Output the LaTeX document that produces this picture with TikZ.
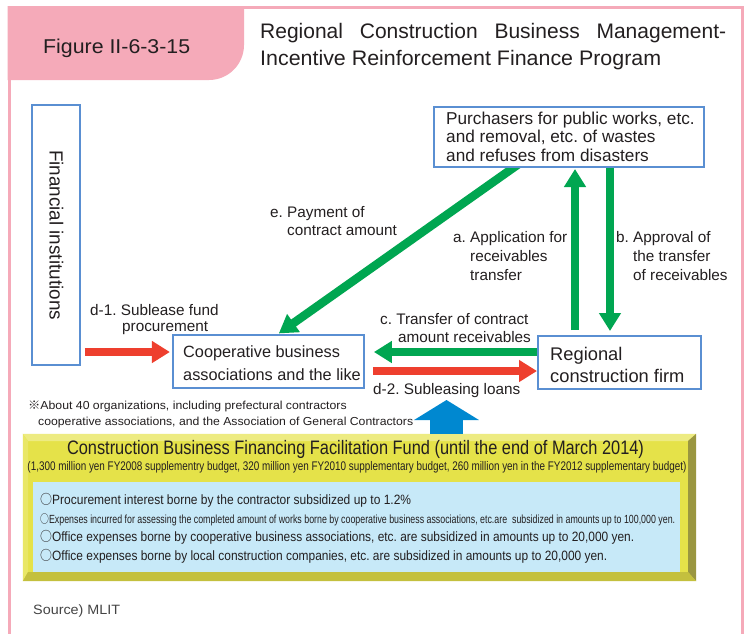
\documentclass[tikz,border=0pt]{standalone}
\usepackage{fontspec}
\setmainfont{Liberation Sans}
\newfontfamily\cjkf{Noto Sans CJK JP}
\usepackage{graphicx}
\usetikzlibrary{arrows.meta,calc}
\newcommand\fitw[2]{\resizebox{#1}{\height}{#2}}
\newcommand\circmark{{\cjkf ○}}
\definecolor{pinkc}{HTML}{F5AAB9}
\definecolor{boxblue}{HTML}{5A8FD2}
\definecolor{grn}{HTML}{00A651}
\definecolor{redc}{HTML}{EE3F2E}
\definecolor{bluea}{HTML}{0088D0}
\definecolor{yface}{HTML}{E5E249}
\definecolor{ytop}{HTML}{EDEB82}
\definecolor{yleft}{HTML}{E9E766}
\definecolor{yright}{HTML}{9A9640}
\definecolor{ybot}{HTML}{C4C03E}
\definecolor{lblue}{HTML}{C7E9F8}
\definecolor{txt}{HTML}{231F20}
\definecolor{srcgray}{HTML}{444444}
\begin{document}
\frenchspacing
\begin{tikzpicture}[x=1pt,y=-1pt,
  box/.style={draw=boxblue,line width=2pt,fill=white,inner sep=0pt},
  txtline/.style={anchor=base west,inner sep=0pt,text=txt},
  lbl/.style={txtline,font=\fontsize{15.3}{18}\selectfont},
  purtxt/.style={txtline,font=\fontsize{17.2}{20}\selectfont},
  cooptxt/.style={txtline,font=\fontsize{16.3}{19}\selectfont},
  regtxt/.style={txtline,font=\fontsize{18.3}{21}\selectfont},
  itemtxt/.style={txtline,font=\fontsize{13.5}{16}\selectfont},
  garrow/.style={draw=grn,line width=8.5pt,-{Triangle[length=18pt,width=21pt]}},
  rarrow/.style={draw=redc,line width=8.5pt,-{Triangle[length=18pt,width=21pt]}},
  barrow/.style={draw=bluea,line width=33pt,-{Triangle[length=20pt,width=64pt]}}]
\useasboundingbox (0,0) rectangle (744,633);
\fill[white] (0,0) rectangle (744,633);
% frame and header
\draw[pinkc,line width=3pt] (9,640) -- (9,7.5) -- (742.5,7.5) -- (742.5,640);
\fill[pinkc] (7.5,6) -- (244,6) -- (244,45) .. controls (244,64.3) and (228.3,80) .. (209,80) -- (7.5,80) -- cycle;
\node[txtline,font=\fontsize{20}{24}\selectfont] (fig) at (43,53.5) {\fitw{147pt}{Figure II-6-3-15}};
\node[txtline,font=\fontsize{21}{24}\selectfont] (title1) at (260,38.8) {\hbox to 466pt{Regional\hfill Construction\hfill Business\hfill Management-}};
\node[txtline,font=\fontsize{21}{24}\selectfont] (title2) at (260,65.5) {\fitw{401pt}{Incentive Reinforcement Finance Program}};
% coordinates for connectors
\coordinate (xa) at (575,0);
\coordinate (xb) at (610,0);
\coordinate (xe1) at (513,0);
\coordinate (xe2) at (278,0);
\coordinate (yc) at (0,352);
\coordinate (yd) at (0,371);
\coordinate (blt) at (446.5,400);
% boxes (positions)
\node[box,minimum width=47.5pt,minimum height=260pt] (fin) at (56,235) {};
\node[box,minimum width=270pt,minimum height=60pt] (pur) at (569,137) {};
\node[box,minimum width=191pt,minimum height=53pt] (coop) at (268.4,361.5) {};
\node[box,minimum width=163pt,minimum height=53pt] (reg) at (619.5,362.5) {};
% fund box
\node[fill=yface,inner sep=0pt,minimum width=673pt,minimum height=147pt] (fund) at (359.5,507.5) {};
\fill[ytop] (fund.north west) -- (fund.north east) -- (688,441) -- (28,441) -- cycle;
\fill[yleft] (fund.north west) -- (28,441) -- (28,572) -- (fund.south west) -- cycle;
\fill[yright] (fund.north east) -- (fund.south east) -- (688,572) -- (688,441) -- cycle;
\fill[ybot] (fund.south west) -- (fund.south east) -- (688,572) -- (28,572) -- cycle;
\node[fill=lblue,inner sep=0pt,minimum width=647pt,minimum height=90pt] (inner) at (356.5,527) {};
% connectors
\draw[garrow,shorten <=5pt,shorten >=1pt] (reg.north -| xa) -- (pur.south -| xa);
\draw[garrow,shorten >=4pt] (pur.south -| xb) -- (reg.north -| xb);
\draw[garrow,shorten >=9pt] (reg.west |- yc) -- (coop.east |- yc);
\draw[rarrow,shorten <=8pt] (coop.east |- yd) -- (reg.west |- yd);
\draw[rarrow,shorten <=4pt,shorten >=2pt] (fin.east |- yc) -- (coop.west |- yc);
\draw[garrow,shorten <=-9pt,shorten >=1pt] (pur.south -| xe1) -- (coop.north -| xe2);
\draw[barrow] (fund.north -| blt) -- (blt);
% redraw purchaser box border over the diagonal start
\node[box,minimum width=270pt,minimum height=60pt] (pur2box) at (569,137) {};
% box texts
\node[rotate=-90,inner sep=0pt,text=txt,font=\fontsize{19}{22}\selectfont] (fint) at (56.5,235) {\fitw{170pt}{Financial institutions}};
\node[purtxt] (pur1) at (446,124.3) {Purchasers for public works, etc.};
\node[purtxt] (pur2) at (446,142.7) {and removal, etc. of wastes};
\node[purtxt] (pur3) at (446,161.7) {and refuses from disasters};
\node[cooptxt] (coop1) at (183,357.7) {Cooperative business};
\node[cooptxt] (coop2) at (183,380) {associations and the like};
\node[regtxt] (reg1) at (550,360) {Regional};
\node[regtxt] (reg2) at (550,382.7) {construction firm};
% labels
\node[lbl] (e1) at (270,217) {e. Payment of};
\node[lbl] (e2) at (287,235.5) {contract amount};
\node[lbl] (a1) at (453,242.7) {a. Application for};
\node[lbl] (a2) at (470,261.7) {receivables};
\node[lbl] (a3) at (470,280) {transfer};
\node[lbl] (b1) at (616,242.7) {b. Approval of};
\node[lbl] (b2) at (633,261.7) {the transfer};
\node[lbl] (b3) at (633,280) {of receivables};
\node[lbl] (c1) at (380,324) {c. Transfer of contract};
\node[lbl] (c2) at (398,342) {amount receivables};
\node[lbl] (d1a) at (90,315.5) {d-1. Sublease fund};
\node[lbl] (d1b) at (122,331.5) {procurement};
\node[lbl] (d2) at (373,394.5) {d-2. Subleasing loans};
% note
\node[txtline,font=\fontsize{11.6}{14}\selectfont] (n1) at (28,409) {\fitw{318.5pt}{{\cjkf ※}About 40 organizations, including prefectural contractors}};
\node[txtline,font=\fontsize{11.6}{14}\selectfont] (n2) at (38,425.7) {\fitw{375pt}{cooperative associations, and the Association of General Contractors}};
% fund texts
\node[anchor=base,inner sep=0pt,text=txt,font=\fontsize{19.5}{22}\selectfont] (ft) at (355.5,454.3) {\fitw{577pt}{Construction Business Financing Facilitation Fund (until the end of March 2014)}};
\node[anchor=base,inner sep=0pt,text=txt,font=\fontsize{12.5}{14}\selectfont] (fs) at (357,470.3) {\fitw{659pt}{(1,300 million yen FY2008 supplementry budget, 320 million yen FY2010 supplementary budget, 260 million yen in the FY2012 supplementary budget)}};
\node[itemtxt] (it1) at (40,504.3) {\fitw{371pt}{\circmark Procurement interest borne by the contractor subsidized up to 1.2\%}};
\node[txtline,font=\fontsize{11.8}{14}\selectfont] (it2) at (40,523.3) {\fitw{635pt}{\circmark Expenses incurred for assessing the completed amount of works borne by cooperative business associations, etc.are\ \ subsidized in amounts up to 100,000 yen.}};
\node[itemtxt] (it3) at (40,541.7) {\fitw{594pt}{\circmark Office expenses borne by cooperative business associations, etc. are subsidized in amounts up to 20,000 yen.}};
\node[itemtxt] (it4) at (40,560.3) {\fitw{567pt}{\circmark Office expenses borne by local construction companies, etc. are subsidized in amounts up to 20,000 yen.}};
\node[txtline,text=srcgray,font=\fontsize{13.5}{16}\selectfont] (src) at (33,614.3) {\fitw{87pt}{Source) MLIT}};
\end{tikzpicture}
\end{document}
